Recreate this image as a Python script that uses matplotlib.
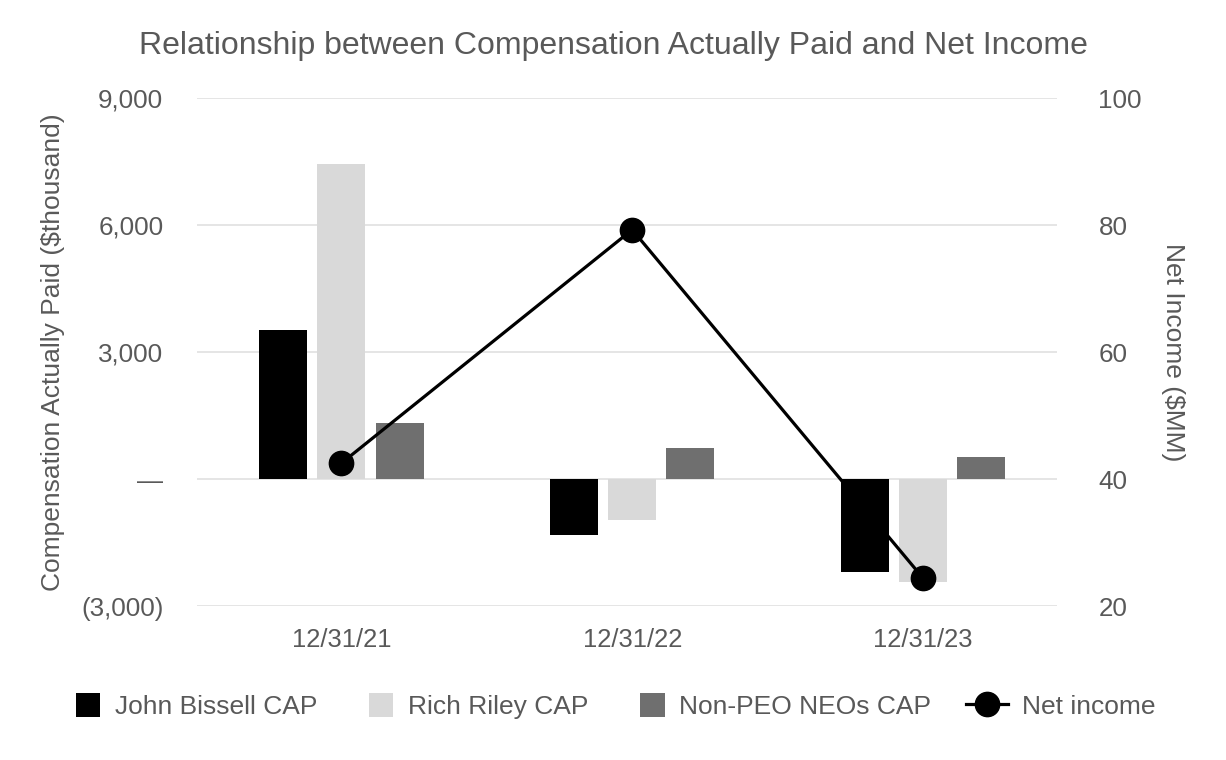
import numpy as np
import matplotlib.pyplot as plt
from matplotlib.ticker import FuncFormatter
from matplotlib.patches import Rectangle
from matplotlib.container import BarContainer
from matplotlib.legend_handler import HandlerPatch

plt.rcParams['font.family'] = ['Liberation Sans', 'DejaVu Sans']

dates = ['12/31/21', '12/31/22', '12/31/23']
bissell_cap = [3530, -1330, -2200]
riley_cap = [7450, -960, -2440]
non_peo_cap = [1320, 740, 520]
net_income = [42.5, 79.3, 24.4]

GRAY = '#595959'

fig = plt.figure(figsize=(12.26, 7.6), dpi=100)
ax = fig.add_axes([0.161, 0.2026, 0.701, 0.668])
ax2 = ax.twinx()

x = np.arange(len(dates))
w = 0.165
gap = 0.2
ax.bar(x - gap, bissell_cap, w, color='#000000', label='John Bissell CAP', zorder=2)
ax.bar(x, riley_cap, w, color='#d9d9d9', label='Rich Riley CAP', zorder=2)
ax.bar(x + gap, non_peo_cap, w, color='#6f6f6f', label='Non-PEO NEOs CAP', zorder=2)

ax2.plot(x, net_income, color='black', lw=2.3, marker='o', ms=17.5, label='Net income', zorder=3)

ax.set_ylim(-3000, 9000)
ax.set_yticks([-3000, 0, 3000, 6000, 9000])


def fmt(v, pos):
    if v == 0:
        return '\u2014'
    if v < 0:
        return '({:,.0f})'.format(-v)
    return '{:,.0f}'.format(v)


ax.yaxis.set_major_formatter(FuncFormatter(fmt))
ax2.set_ylim(20, 100)
ax2.set_yticks([20, 40, 60, 80, 100])
ax.set_xlim(-0.495, 2.46)
ax.set_xticks(x)
ax.set_xticklabels(dates)

ax.grid(axis='y', color='#e3e3e3', lw=1.3, zorder=0)
ax.set_axisbelow(True)
for a in (ax, ax2):
    for s in a.spines.values():
        s.set_visible(False)
    a.tick_params(length=0, colors=GRAY, labelsize=18.7)
ax.tick_params(axis='y', pad=24.5)
ax.tick_params(axis='x', pad=15.5, labelsize=18.4)
ax2.tick_params(axis='y', pad=30)

ax.set_ylabel('Compensation Actually Paid ($thousand)', color=GRAY, fontsize=19, va='center')
ax.yaxis.set_label_coords(-0.168, 0.5)
ax2.set_ylabel('Net Income ($MM)', color=GRAY, fontsize=19, rotation=270, va='center')
ax2.yaxis.set_label_coords(1.135, 0.5)
fig.suptitle('Relationship between Compensation Actually Paid and Net Income',
             color=GRAY, fontsize=23, x=0.5, y=0.94, va='center')


# square legend patches, pushed to the right end of the handle box
def square(legend, orig_handle, xdescent, ydescent, width, height, fontsize):
    return Rectangle((-xdescent + width - height, -ydescent), height, height)


def from_bar(legend_patch, orig_handle):
    legend_patch.update_from(orig_handle.patches[0])


h1, l1 = ax.get_legend_handles_labels()
h2, l2 = ax2.get_legend_handles_labels()
fig.legend(h1 + h2, l1 + l2, loc='center', bbox_to_anchor=(0.495, 0.071), ncol=4,
           frameon=False, fontsize=19, labelcolor=GRAY, handlelength=1.6,
           handleheight=1.05, columnspacing=1.3, handletextpad=0.55,
           handler_map={BarContainer: HandlerPatch(patch_func=square, update_func=from_bar)})

fig.savefig('out.png', dpi=100)
